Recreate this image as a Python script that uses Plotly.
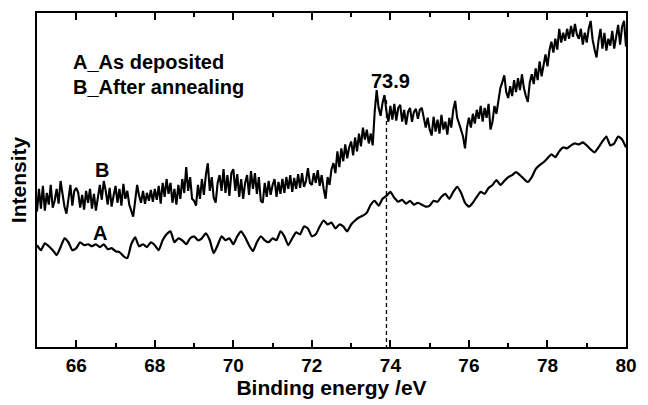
import numpy as np
import plotly.graph_objects as go

# ---- data ----
energy_b = np.round(np.linspace(65.0, 80.0, 301), 2)
intensity_b = [
    139, 162, 142, 165, 140, 158, 146, 166, 143, 150, 162, 147, 170, 158, 144, 137, 154, 166, 145, 160,
    163, 158, 143, 156, 141, 160, 148, 162, 142, 157, 140, 152, 166, 151, 170, 160, 146, 163, 144, 155,
    165, 148, 162, 145, 167, 152, 160, 146, 141, 134, 150, 166, 155, 148, 160, 147, 158, 150, 161, 149,
    162, 151, 165, 147, 168, 154, 172, 157, 168, 148, 162, 146, 166, 152, 172, 158, 184, 160, 174, 152,
    150, 145, 166, 152, 172, 156, 176, 188, 160, 174, 153, 148, 168, 176, 160, 182, 158, 176, 155, 178,
    182, 160, 177, 154, 172, 152, 168, 176, 156, 180, 162, 178, 157, 174, 150, 148, 168, 154, 170, 156,
    166, 172, 154, 169, 157, 172, 158, 174, 162, 176, 159, 173, 162, 177, 163, 178, 164, 170, 183, 168,
    166, 178, 168, 181, 165, 176, 162, 152, 174, 166, 182, 188, 178, 200, 184, 203, 190, 207, 193, 204,
    210, 196, 214, 200, 218, 205, 224, 212, 222, 208, 218, 206, 240, 262, 244, 236, 249, 257, 240, 230,
    246, 232, 248, 231, 244, 247, 230, 242, 227, 240, 244, 230, 240, 243, 233, 242, 244, 235, 224, 234,
    222, 216, 235, 220, 232, 218, 237, 222, 230, 217, 234, 224, 242, 251, 234, 228, 222, 215, 203, 224,
    234, 224, 238, 228, 242, 233, 246, 230, 244, 234, 248, 222, 230, 246, 238, 254, 264, 270, 277, 260,
    254, 266, 256, 272, 260, 274, 262, 278, 264, 256, 250, 270, 278, 268, 284, 272, 291, 276, 286, 298,
    286, 302, 311, 300, 314, 303, 324, 310, 320, 312, 324, 314, 327, 316, 329, 318, 314, 324, 308, 320,
    310, 324, 332, 313, 303, 295, 312, 324, 304, 320, 302, 314, 307, 322, 304, 318, 328, 308, 326, 332,
    306,
]

energy_a = np.round(np.linspace(65.0, 80.0, 151), 2)
intensity_a = [
    105, 100, 107, 104, 100, 95, 103, 112, 108, 100,
    102, 108, 105, 106, 104, 106, 103, 106, 101, 102,
    99, 98, 94, 92, 106, 113, 104, 106, 103, 108,
    105, 100, 110, 116, 119, 108, 112, 110, 106, 112,
    114, 110, 112, 117, 110, 97, 105, 114, 110, 112,
    106, 114, 119, 113, 105, 99, 108, 114, 110, 108,
    112, 110, 119, 114, 105, 112, 118, 116, 124, 122,
    114, 116, 124, 130, 126, 128, 122, 126, 124, 119,
    126, 130, 133, 135, 138, 146, 150, 145, 152, 155,
    159, 153, 149, 151, 147, 150, 146, 148, 146, 144,
    145, 150, 149, 154, 157, 152, 159, 164, 158, 148,
    144, 148, 154, 159, 157, 163, 166, 171, 166, 170,
    174, 176, 179, 176, 172, 169, 174, 182, 186, 189,
    193, 197, 194, 200, 204, 203, 206, 208, 207, 209,
    206, 202, 199, 204, 210, 215, 206, 208, 215, 212,
    204,
]

peak_energy = 73.9
peak_height = 252
x_ticks = [66, 68, 70, 72, 74, 76, 78, 80]

FONT = "Liberation Sans, Arial, sans-serif"

fig = go.Figure()
fig.add_trace(go.Scatter(x=energy_a, y=intensity_a, mode="lines",
                         line=dict(color="black", width=2.2, shape="spline", smoothing=0.5),
                         showlegend=False, hoverinfo="skip"))
fig.add_trace(go.Scatter(x=energy_b, y=intensity_b, mode="lines",
                         line=dict(color="black", width=2.1),
                         showlegend=False, hoverinfo="skip"))
# dashed marker line (drawn on the top axis, which shares the same range)
fig.add_trace(go.Scatter(x=[peak_energy, peak_energy], y=[0, peak_height], mode="lines",
                         xaxis="x2", yaxis="y",
                         line=dict(color="black", width=1.3, dash="4px,3px"),
                         showlegend=False, hoverinfo="skip"))

ann_font = dict(family=FONT, size=20, color="black", weight="bold")
annotations = [
    dict(x=65.875, y=290, text="A_As deposited", xanchor="left", yanchor="middle", showarrow=False, font=ann_font),
    dict(x=65.875, y=265, text="B_After annealing", xanchor="left", yanchor="middle", showarrow=False, font=ann_font),
    dict(x=66.65, y=181, text="B", xanchor="center", yanchor="middle", showarrow=False, font=ann_font),
    dict(x=66.6, y=117, text="A", xanchor="center", yanchor="middle", showarrow=False, font=ann_font),
    dict(x=74.0, y=271, text="73.9", xanchor="center", yanchor="middle", showarrow=False, font=ann_font),
]

minor_ticks = dict(dtick=1, tick0=65, ticks="inside", ticklen=4, tickwidth=2, tickcolor="black", showgrid=False)

fig.update_layout(
    width=648, height=405,
    margin=dict(l=37, r=11, t=12, b=55),
    paper_bgcolor="white", plot_bgcolor="white",
    font=dict(family=FONT, color="black"),
    annotations=annotations,
    xaxis=dict(
        range=[65, 80], tickvals=x_ticks, ticks="inside", ticklen=7, tickwidth=2, tickcolor="black",
        showline=True, linewidth=2, linecolor="black", mirror=True, showgrid=False, zeroline=False,
        minor=minor_ticks,
        tickfont=dict(family=FONT, size=19, color="black", weight="bold"),
        title=dict(text="Binding energy /eV", font=dict(family=FONT, size=21, color="black", weight="bold"), standoff=4),
    ),
    xaxis2=dict(
        range=[65, 80], overlaying="x", side="top", anchor="y", tickvals=x_ticks, ticks="inside", ticklen=7,
        tickwidth=2, tickcolor="black", showticklabels=False, showline=False, showgrid=False, zeroline=False,
        minor=minor_ticks,
    ),
    yaxis=dict(
        range=[2, 340], showticklabels=False, ticks="", showline=True, linewidth=2, linecolor="black",
        mirror=True, showgrid=False, zeroline=False,
        title=dict(text="Intensity", font=dict(family=FONT, size=21, color="black", weight="bold"), standoff=3),
    ),
)

fig.write_html("out.html")
